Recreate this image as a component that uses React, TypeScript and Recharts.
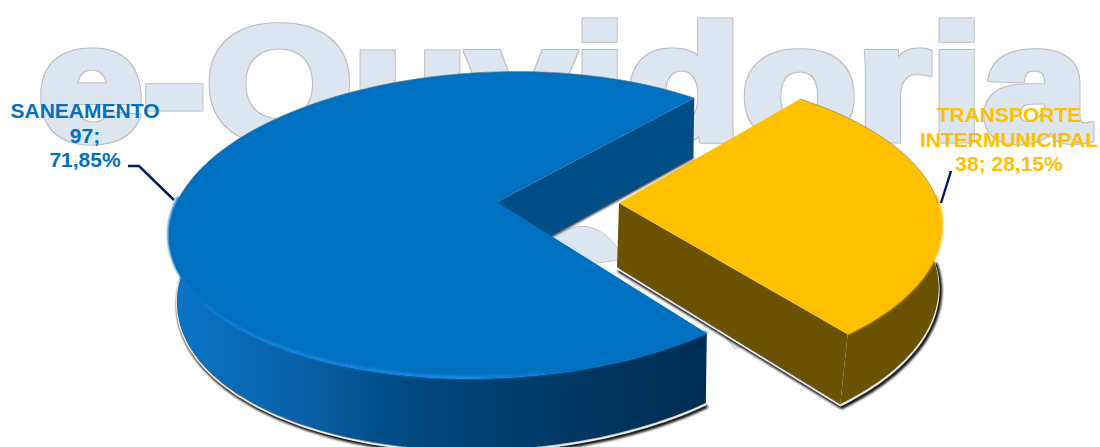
import React from "react";
import { PieChart, Pie, Cell } from "recharts";

const categories = ["TRANSPORTE INTERMUNICIPAL", "SANEAMENTO"];
const counts = [38, 97];
const percents = ["28,15%", "71,85%"];
const labelLines = [
  ["TRANSPORTE", "INTERMUNICIPAL", "38; 28,15%"],
  ["SANEAMENTO", "97;", "71,85%"],
];
const colors = ["#FFC000", "#0070C0"];
const rows = categories.map((name, i) => ({ name, value: counts[i], percent: percents[i] }));

const WIDTH = 1100;
const HEIGHT = 447;
const labelPos = [
  { x: 1009, y: 122, step: 24.5 },
  { x: 85, y: 118, step: 24.5 },
];
const leaders = [
  "M951,171 L941,203",
  "M128,166 L139,166 L174,200",
];
const geo = [
  {
    cx: 619, cy: 203, A: 319, B: 150, k: 0.15, shear: 0, wall: "#6B5200", outer: "#6B5200",
    shift: (X: number, s: number) => -2 + 7 * Math.min(0, s),
  },
  {
    cx: 497, cy: 202, A: 320, B: 150, k: 0.15, shear: 0.15, wall: "#014D86", outer: "url(#blueWall)",
    shift: (X: number) => (X < 0 ? -8 * X : -1.5 * X),
  },
];

const pt = (g: any, deg: number) => {
  const t = (deg * Math.PI) / 180;
  const X = Math.cos(t);
  const Y = Math.sin(t);
  const w = 1 + g.k * Y;
  const px = (g.A * X) / w;
  const py = (g.B * Y) / w;
  return { x: g.cx + px + g.shear * py, y: g.cy - py, w, s: Y, X };
};
const d = (pts: any[]) => pts.map((p, i) => `${i ? "L" : "M"}${p.x.toFixed(1)},${p.y.toFixed(1)}`).join(" ");

const Slice = (props: any) => {
  const { startAngle, endAngle, fill, index } = props;
  const idx = index ?? (fill === colors[0] ? 0 : 1);
  const g = geo[idx];
  const drop = (p: any) => ({ x: p.x + g.shift(p.X, p.s), y: p.y + 20 + 44 / p.w });
  const n = 160;
  const rim: any[] = [];
  for (let i = 0; i <= n; i++) rim.push(pt(g, startAngle + ((endAngle - startAngle) * i) / n));
  const apex = { x: g.cx, y: g.cy, w: 1, s: 0, X: 0 };
  const front = rim.filter((p) => p.s <= 0.05);
  const back = rim.filter((p) => p.s > 0);
  const frontBottom = front.map(drop);
  const endTop = rim[rim.length - 1];
  const cut = [apex, endTop, drop(endTop), drop(apex)];
  const shadowPts = idx === 0 ? [drop(apex), ...[...frontBottom].reverse()] : frontBottom;
  return (
    <g>
      <defs>
        <linearGradient id="blueWall" gradientUnits="userSpaceOnUse" x1="168" x2="707" y1="0" y2="0">
          <stop offset="0" stopColor="#0A75C8" />
          <stop offset="0.25" stopColor="#0860A8" />
          <stop offset="0.45" stopColor="#00487F" />
          <stop offset="0.7" stopColor="#003A68" />
          <stop offset="1" stopColor="#002D52" />
        </linearGradient>
        <linearGradient id="blueBevel" gradientUnits="userSpaceOnUse" x1="168" x2="707" y1="0" y2="0">
          <stop offset="0" stopColor="#0070C0" />
          <stop offset="0.2" stopColor="#1482DC" />
          <stop offset="0.55" stopColor="#1A8CEB" />
          <stop offset="0.75" stopColor="#0070C0" />
          <stop offset="1" stopColor="#0070C0" />
        </linearGradient>
        <filter id="soft" filterUnits="userSpaceOnUse" x="0" y="0" width={WIDTH} height={HEIGHT + 40}>
          <feGaussianBlur stdDeviation="1.1" />
        </filter>
      </defs>
      <path d={d(shadowPts)} transform="translate(1.5,3)" fill="none" stroke="#111111" strokeWidth={4} filter="url(#soft)" />
      {idx === 1 && (
        <path d={d([drop(endTop), drop(apex)])} fill="none" stroke="#222222" strokeWidth={2.5} filter="url(#soft)" />
      )}
      <path d={d(shadowPts)} transform="translate(0,1.5)" fill="none" stroke="#EDEDED" strokeWidth={1.8} />
      <path d={`${d(front)} ${d([...frontBottom].reverse()).replace("M", "L")} Z`} fill={g.outer} />
      <path d={`${d(cut)} Z`} fill={g.wall} />
      <path d={`${d([apex, ...rim])} Z`} fill={fill} />
      <path
        d={d(front)}
        transform="translate(0,-1)"
        fill="none"
        stroke={idx === 0 ? fill : "url(#blueBevel)"}
        strokeWidth={3}
        filter="url(#soft)"
      />
      <path d={d(back)} fill="none" stroke="#777777" strokeOpacity={0.6} strokeWidth={1} />
    </g>
  );
};

const SliceLabel = (props: any) => {
  const i = props.index;
  const pos = labelPos[i];
  return (
    <text
      textAnchor="middle"
      fill={colors[i]}
      fontFamily="'Liberation Sans', Arial, sans-serif"
      fontWeight="bold"
      fontSize={21}
    >
      {labelLines[i].map((line, j) => (
        <tspan key={j} x={pos.x} y={pos.y + j * pos.step}>
          {line}
        </tspan>
      ))}
    </text>
  );
};

const Leader = (props: any) => (
  <path d={leaders[props.index]} fill="none" stroke="#002060" strokeWidth={2.5} />
);

export default function App() {
  return (
    <div style={{ position: "absolute", left: 0, top: 0, width: WIDTH, height: HEIGHT, overflow: "hidden", background: "#fff" }}>
      <svg width={WIDTH} height={HEIGHT} style={{ position: "absolute", left: 0, top: 0 }}>
        <defs>
          <filter id="outline" filterUnits="userSpaceOnUse" x="0" y="0" width={WIDTH} height={HEIGHT}>
            <feMorphology in="SourceAlpha" operator="dilate" radius="0.7" result="fat" />
            <feFlood floodColor="#BDBDBD" />
            <feComposite in2="fat" operator="in" result="edge" />
            <feMerge>
              <feMergeNode in="edge" />
              <feMergeNode in="SourceGraphic" />
            </feMerge>
          </filter>
        </defs>
        <text
          x={38}
          y={138.5}
          textLength={1050}
          lengthAdjust="spacingAndGlyphs"
          fontFamily="'Liberation Sans', Arial, sans-serif"
          fontWeight="bold"
          fontSize={162}
          fill="#DCE6F1"
          stroke="#DCE6F1"
          strokeWidth={7}
          strokeLinejoin="miter"
          filter="url(#outline)"
        >
          e-Ouvidoria
        </text>
        <path
          d="M550,240 Q590,208 619,250 L619,260 L590,264 L550,250 Z M726,338 L735,349 L748,345 L745,335 Z"
          fill="#DCE6F1"
          stroke="#BDBDBD"
          strokeWidth={0.8}
        />
      </svg>
      <div style={{ position: "absolute", left: 0, top: 0 }}>
        <PieChart width={WIDTH} height={HEIGHT} margin={{ top: 0, right: 0, bottom: 0, left: 0 }}>
          <Pie
            data={rows}
            dataKey="value"
            nameKey="name"
            cx={550}
            cy={220}
            outerRadius={200}
            startAngle={50.67}
            endAngle={-309.33}
            stroke="none"
            isAnimationActive={false}
            shape={Slice}
            label={SliceLabel}
            labelLine={Leader}
          >
            {rows.map((r, i) => (
              <Cell key={r.name} fill={colors[i]} />
            ))}
          </Pie>
        </PieChart>
      </div>
    </div>
  );
}
